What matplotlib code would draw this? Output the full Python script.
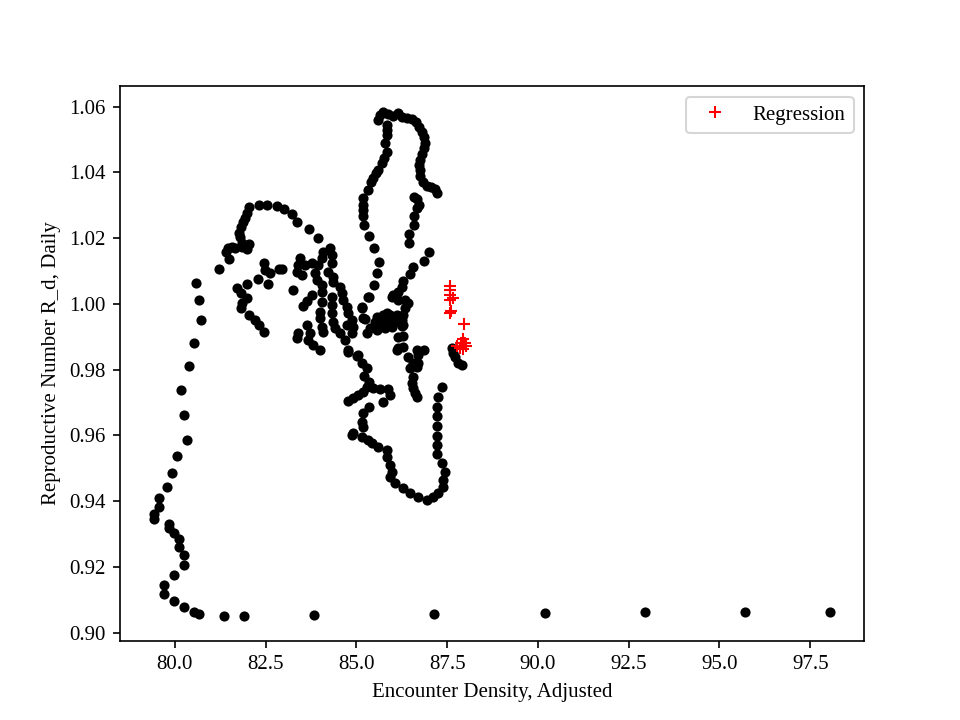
import matplotlib
matplotlib.use("Agg")
import matplotlib.pyplot as plt

plt.rcParams['font.family'] = ['Liberation Serif', 'DejaVu Serif']

# Observed trajectory (black dots)
obs_x = [
    98.05, 95.71, 92.95, 90.20, 87.14, 83.83, 81.90, 81.35, 80.66, 80.52, 80.25, 79.97,
    79.70, 79.70, 79.97, 80.25, 80.25, 80.11, 80.11, 79.97, 79.83, 79.83, 79.42, 79.42,
    79.56, 79.56, 79.78, 79.92, 80.06, 80.33, 80.25, 80.17, 80.39, 80.52, 80.72, 80.66, 80.58,
    # upper-left arc
    81.21, 81.49, 81.41, 81.46, 81.57, 81.65, 81.85, 81.98, 82.04, 81.85, 81.79, 81.76,
    81.82, 81.87, 81.93, 81.98, 82.04, 82.31, 82.54, 82.81, 83.00, 83.22, 83.36, 83.69, 83.94,
    # inner left
    82.45, 82.48, 82.62, 82.87, 82.29, 82.56, 81.98, 81.71, 81.82, 81.98, 81.85, 81.82,
    82.04, 82.20, 82.31, 82.45,
    # left cluster
    82.95, 83.25, 83.53, 83.78, 83.64, 84.27, 84.08, 84.33, 84.05, 83.44, 83.39, 83.58, 83.78,
    83.94, 84.33, 83.36, 83.50, 83.86, 84.22, 84.35, 83.91, 84.05, 84.35, 84.55, 84.05,
    84.60, 84.33, 84.63, 84.05, 84.33, 84.74, 84.00, 84.33, 84.77, 85.15, 84.00, 84.35,
    84.88, 83.64, 84.05, 84.41, 84.74, 84.91, 83.39, 83.72, 84.55, 84.88, 83.36, 83.66,
    84.08, 84.68, 83.80, 84.00, 84.77, 85.32, 85.18, 85.29,
    # right cluster
    85.35, 85.48, 85.62, 85.57, 85.48, 85.35, 85.15, 85.24, 86.45, 86.45, 87.00, 86.86,
    86.56, 86.48, 86.28, 86.26, 86.15, 85.98, 86.15, 86.34, 86.42, 86.34, 86.28, 85.57,
    85.73, 85.92, 86.12, 85.51, 85.70, 85.87, 86.06, 86.26, 85.37, 85.57, 85.79, 85.98,
    86.26, 85.84, 86.01, 86.28, 86.15, 86.28, 86.15, 86.28, 86.67, 86.86, 86.42, 86.70,
    86.56, 85.04, 86.48, 86.67, 86.56, 86.53, 87.36, 87.66, 87.72, 87.80, 87.91, 87.63,
    # top loop
    85.59, 85.65, 85.73, 85.87, 86.01, 86.15, 86.26, 86.39, 86.53, 86.64, 86.72, 86.81,
    86.86, 86.89, 86.86, 86.81, 86.75, 86.72, 86.75, 86.75, 86.83, 86.94, 87.05, 87.16, 87.22,
    85.84, 85.84, 85.84, 85.79, 85.84, 85.76, 85.70, 85.59, 85.54, 85.46, 85.40, 85.32,
    85.18, 85.18, 85.18, 85.18, 85.21,
    86.59, 86.67, 86.72, 86.67, 86.59, 86.59,
    # lower U
    84.77, 85.02, 85.15, 85.29, 85.21, 85.35, 85.29, 85.46, 85.65, 85.87, 85.92, 85.73,
    85.35, 85.18, 85.15, 85.18, 84.91, 84.88, 84.77, 84.91, 85.04, 85.18, 85.15, 85.32,
    85.43, 85.59, 85.84, 85.84, 85.92, 85.98, 85.92, 86.06, 86.28, 86.48, 86.70, 86.94,
    87.11, 87.25, 87.39, 87.39, 87.44, 87.36, 87.22, 87.22, 87.22, 87.22, 87.22, 87.22, 87.25,
    86.56, 86.61, 86.67, 86.70, 86.12,
]
obs_y = [
    0.9064, 0.9064, 0.9064, 0.9061, 0.9058, 0.9055, 0.9052, 0.9052, 0.9058, 0.9064, 0.9079, 0.9097,
    0.9119, 0.9146, 0.9176, 0.9207, 0.9237, 0.9262, 0.9286, 0.9304, 0.9319, 0.9332, 0.9347, 0.9362,
    0.9383, 0.9411, 0.9444, 0.9487, 0.9538, 0.9587, 0.9663, 0.9739, 0.9812, 0.9882, 0.9952, 1.0013, 1.0065,
    1.0107, 1.0138, 1.0159, 1.0171, 1.0174, 1.0171, 1.0174, 1.0168, 1.0183, 1.0186, 1.0205, 1.0217,
    1.0235, 1.0250, 1.0262, 1.0278, 1.0296, 1.0302, 1.0302, 1.0299, 1.0290, 1.0275, 1.0250, 1.0229, 1.0202,
    1.0125, 1.0104, 1.0095, 1.0107, 1.0077, 1.0062, 1.0062, 1.0049, 1.0034, 1.0019, 1.0004, 0.9989,
    0.9967, 0.9952, 0.9937, 0.9916,
    1.0107, 1.0043, 0.9995, 1.0028, 1.0010, 1.0171, 1.0159, 1.0150, 1.0141, 1.0141, 1.0119, 1.0119, 1.0125,
    1.0119, 1.0125, 1.0098, 1.0089, 1.0095, 1.0098, 1.0083, 1.0074, 1.0059, 1.0068, 1.0052, 1.0037,
    1.0034, 1.0022, 1.0013, 1.0007, 0.9998, 0.9992, 0.9976, 0.9973, 0.9973, 0.9989, 0.9958, 0.9946,
    0.9952, 0.9937, 0.9931, 0.9928, 0.9937, 0.9931, 0.9913, 0.9913, 0.9913, 0.9913, 0.9897, 0.9891,
    0.9916, 0.9891, 0.9876, 0.9861, 0.9861, 1.0022, 0.9958, 0.9913,
    1.0208, 1.0171, 1.0128, 1.0095, 1.0059, 1.0022, 0.9992, 0.9955, 1.0214, 1.0186, 1.0159, 1.0132,
    1.0111, 1.0092, 1.0071, 1.0052, 1.0037, 1.0022, 1.0013, 1.0013, 1.0004, 0.9989, 0.9967, 0.9961,
    0.9967, 0.9967, 0.9967, 0.9946, 0.9946, 0.9946, 0.9946, 0.9952, 0.9928, 0.9922, 0.9928, 0.9931,
    0.9934, 0.9973, 1.0028, 0.9937, 0.9900, 0.9903, 0.9867, 0.9870, 0.9861, 0.9861, 0.9840, 0.9846,
    0.9821, 0.9846, 0.9806, 0.9809, 0.9779, 0.9760, 0.9748, 0.9852, 0.9840, 0.9821, 0.9815, 0.9867,
    1.0560, 1.0576, 1.0585, 1.0579, 1.0573, 1.0582, 1.0570, 1.0567, 1.0563, 1.0554, 1.0539, 1.0524,
    1.0509, 1.0490, 1.0475, 1.0457, 1.0439, 1.0424, 1.0408, 1.0390, 1.0372, 1.0360, 1.0357, 1.0351, 1.0338,
    1.0545, 1.0530, 1.0515, 1.0490, 1.0463, 1.0445, 1.0430, 1.0408, 1.0399, 1.0384, 1.0372, 1.0348,
    1.0323, 1.0302, 1.0287, 1.0268, 1.0241,
    1.0326, 1.0320, 1.0302, 1.0293, 1.0266, 1.0241,
    0.9855, 0.9843, 0.9821, 0.9806, 0.9782, 0.9763, 0.9748, 0.9745, 0.9742, 0.9742, 0.9724, 0.9703,
    0.9687, 0.9669, 0.9642, 0.9627, 0.9608, 0.9602, 0.9706, 0.9715, 0.9724, 0.9733, 0.9596, 0.9587,
    0.9578, 0.9566, 0.9557, 0.9535, 0.9511, 0.9490, 0.9475, 0.9456, 0.9441, 0.9426, 0.9414, 0.9405,
    0.9414, 0.9426, 0.9444, 0.9465, 0.9490, 0.9517, 0.9544, 0.9572, 0.9599, 0.9630, 0.9660, 0.9687, 0.9718,
    0.9745, 0.9730, 0.9718, 0.9821, 0.9861,
]

# Regression points (red plus)
reg_x = [87.58, 87.58, 87.58, 87.66, 87.57, 87.60, 87.57, 87.96, 87.93, 87.99, 87.77, 87.85, 87.93, 88.01, 87.88]
reg_y = [1.0056, 1.0042, 1.0028, 1.0017, 1.0013, 0.9980, 0.9973, 0.9940, 0.9894, 0.9882, 0.9873, 0.9867, 0.9864, 0.9873, 0.9882]

fig, ax = plt.subplots(figsize=(6.4, 4.8), dpi=150)
ax.scatter(obs_x, obs_y, c='k', s=15)
ax.plot(reg_x, reg_y, 'r+', label='Regression')
ax.set_xlabel('Encounter Density, Adjusted')
ax.set_ylabel('Reproductive Number R_d, Daily')
ax.legend(loc='upper right')
fig.savefig('out.png', dpi=150)
